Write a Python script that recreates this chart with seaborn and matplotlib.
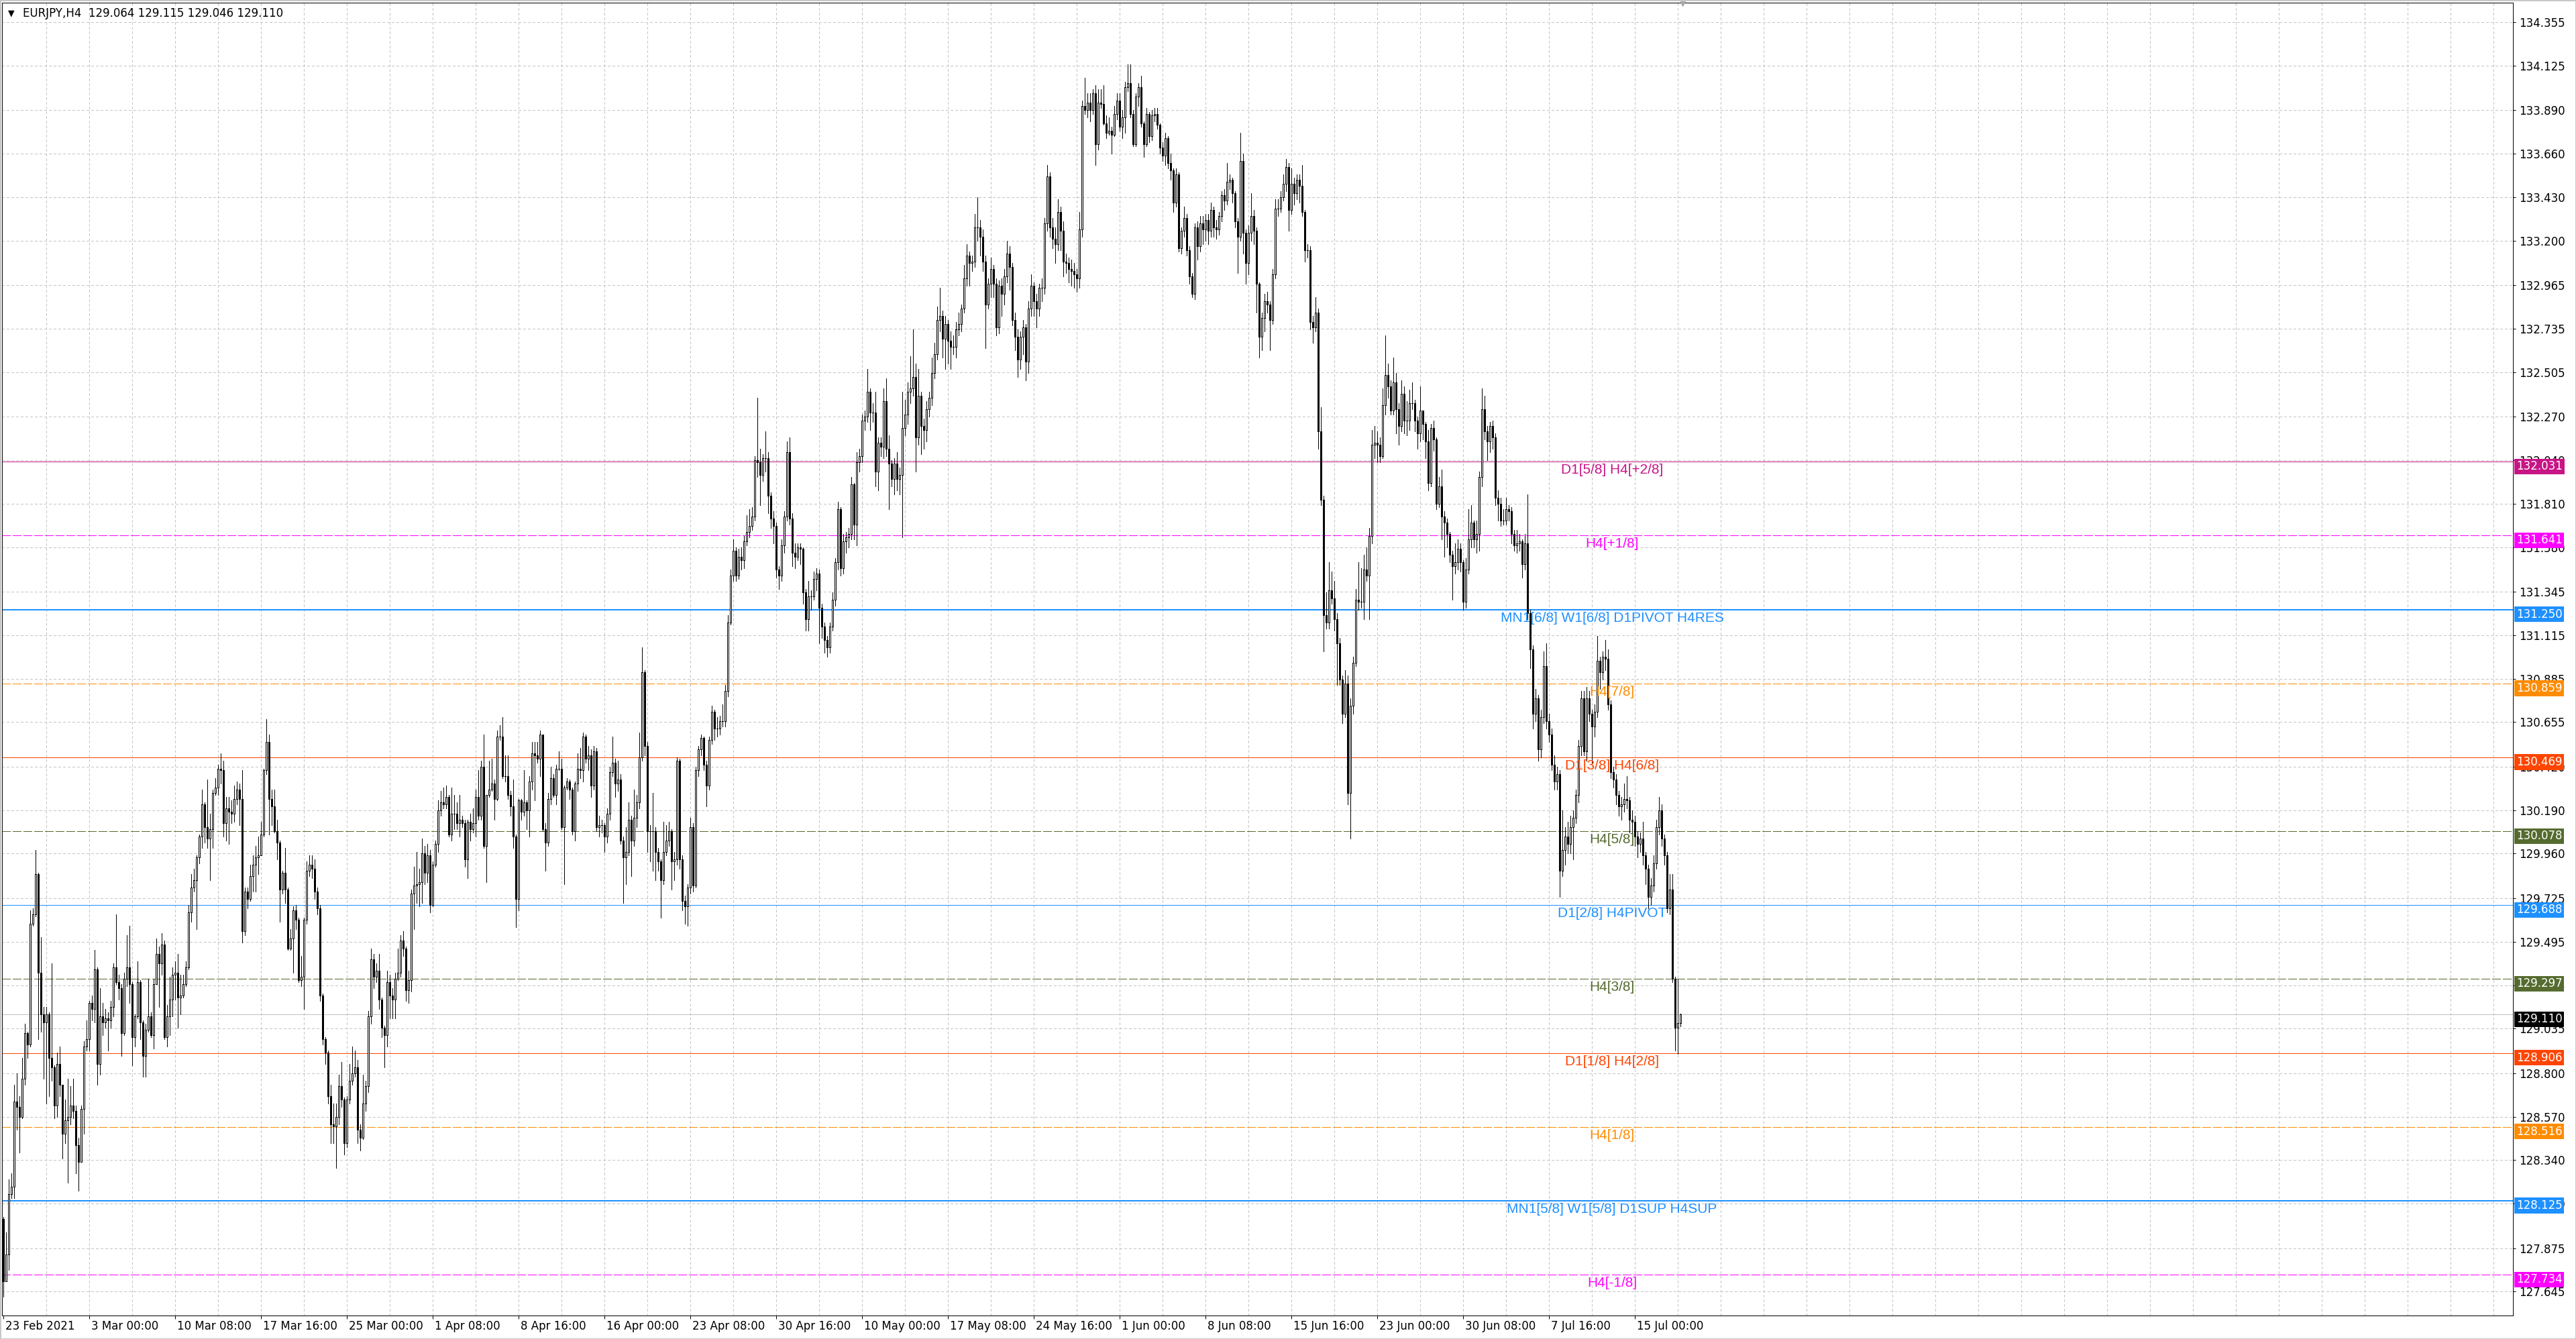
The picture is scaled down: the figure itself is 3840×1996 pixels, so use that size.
import numpy as np
import matplotlib
matplotlib.use("Agg")
import matplotlib.pyplot as plt
import matplotlib.transforms as mtransforms
from matplotlib.patches import Rectangle
import seaborn as sns

# ---- data ----
symbol = "EURJPY,H4"
last_ohlc = [129.064, 129.115, 129.046, 129.110]
first_open = 128.03

closes = [
    127.70, 127.84, 128.16, 128.20, 128.65, 128.62, 128.57, 128.77, 129.01, 128.95,
    129.59, 129.64, 129.85, 129.33, 129.11, 129.07, 129.11, 128.88, 128.83, 128.63,
    128.85, 128.74, 128.48, 128.55, 128.57, 128.63, 128.60, 128.42, 128.33, 128.61,
    128.94, 128.98, 129.17, 129.14, 129.35, 128.85, 129.10, 129.07, 129.09, 129.08,
    129.15, 129.36, 129.28, 129.25, 129.01, 129.30, 129.36, 129.27, 128.99, 129.10,
    129.28, 129.07, 128.89, 129.03, 129.10, 129.00, 129.27, 129.43, 129.38, 129.48,
    128.99, 129.10, 129.19, 129.32, 129.33, 129.20, 129.21, 129.27, 129.36, 129.65,
    129.78, 129.82, 129.94, 130.05, 130.22, 130.10, 130.04, 130.09, 130.28, 130.31,
    130.41, 130.40, 130.12, 130.20, 130.18, 130.17, 130.25, 130.30, 130.25, 129.55,
    129.76, 129.72, 129.84, 129.90, 129.94, 129.95, 130.06, 130.40, 130.55, 130.25,
    130.21, 130.08, 130.02, 129.77, 129.86, 129.77, 129.46, 129.51, 129.66, 129.61,
    129.29, 129.31, 129.61, 129.87, 129.90, 129.88, 129.76, 129.67, 129.21, 128.98,
    128.91, 128.68, 128.53, 128.52, 128.57, 128.73, 128.66, 128.43, 128.66, 128.76,
    128.80, 128.83, 128.50, 128.46, 128.64, 128.73, 129.10, 129.40, 129.31, 129.34,
    129.19, 129.04, 129.00, 129.28, 129.21, 129.19, 129.30, 129.33, 129.50, 129.46,
    129.24, 129.29, 129.75, 129.79, 129.80, 129.81, 129.96, 129.86, 129.95, 129.69,
    129.90, 130.01, 130.19, 130.23, 130.22, 130.26, 130.06, 130.17, 130.17, 130.12,
    130.14, 130.12, 129.93, 130.13, 130.09, 130.12, 130.26, 130.16, 130.42, 130.00,
    130.27, 130.30, 130.33, 130.25, 130.58, 130.58, 130.37, 130.37, 130.27, 130.21,
    130.05, 129.72, 130.24, 130.18, 130.23, 130.19, 130.34, 130.49, 130.48, 130.46,
    130.59, 130.09, 130.02, 130.25, 130.36, 130.27, 130.41, 130.41, 130.10, 130.31,
    130.34, 130.30, 130.08, 130.33, 130.41, 130.40, 130.58, 130.46, 130.48, 130.32,
    130.50, 130.10, 130.11, 130.11, 130.05, 130.17, 130.39, 130.44, 130.33, 130.35,
    130.03, 129.94, 129.97, 130.14, 130.03, 130.15, 130.23, 130.47, 130.92, 130.53,
    130.08, 130.08, 130.08, 129.97, 129.92, 129.82, 129.97, 130.03, 130.08, 129.92,
    129.93, 130.45, 129.93, 129.71, 129.68, 129.78, 130.10, 129.79, 130.40, 130.51,
    130.57, 130.43, 130.32, 130.56, 130.71, 130.62, 130.62, 130.66, 130.66, 130.82,
    131.18, 131.43, 131.56, 131.43, 131.53, 131.51, 131.61, 131.66, 131.69, 131.74,
    132.04, 132.03, 131.96, 132.05, 132.05, 131.85, 131.73, 131.69, 131.46, 131.43,
    131.59, 131.74, 132.08, 131.73, 131.55, 131.53, 131.58, 131.57, 131.34, 131.20,
    131.32, 131.32, 131.41, 131.44, 131.26, 131.16, 131.09, 131.05, 131.16, 131.30,
    131.50, 131.78, 131.47, 131.61, 131.63, 131.65, 131.91, 131.70, 132.03, 132.06,
    132.25, 132.27, 132.40, 132.29, 132.29, 131.98, 132.13, 132.11, 132.35, 132.10,
    132.02, 131.94, 132.02, 131.94, 131.96, 132.21, 132.28, 132.40, 132.42, 132.48,
    132.16, 132.38, 132.22, 132.20, 132.31, 132.37, 132.50, 132.60, 132.78, 132.80,
    132.68, 132.76, 132.67, 132.64, 132.64, 132.73, 132.76, 132.84, 133.00, 133.12,
    133.08, 133.09, 133.27, 133.27, 133.22, 133.09, 132.86, 132.97, 133.05, 132.97,
    132.74, 132.96, 132.92, 133.01, 133.13, 133.06, 132.78, 132.69, 132.57, 132.69,
    132.74, 132.56, 132.84, 132.96, 132.88, 132.84, 132.95, 132.95, 133.29, 133.54,
    133.27, 133.21, 133.18, 133.35, 133.25, 133.09, 133.08, 133.05, 133.04, 133.02,
    133.00, 133.26, 133.91, 133.89, 133.93, 133.89, 133.98, 133.71, 133.93, 133.92,
    133.82, 133.77, 133.78, 133.76, 133.87, 133.94, 133.80, 133.85, 134.01, 134.03,
    133.87, 133.71, 133.96, 134.01, 133.82, 133.71, 133.87, 133.75, 133.86, 133.87,
    133.81, 133.69, 133.65, 133.74, 133.61, 133.57, 133.40, 133.55, 133.16, 133.25,
    133.32, 133.15, 133.01, 132.92, 133.27, 133.17, 133.29, 133.26, 133.31, 133.25,
    133.36, 133.27, 133.26, 133.33, 133.44, 133.41, 133.51, 133.52, 133.45, 133.30,
    133.22, 133.62, 133.24, 133.08, 133.24, 133.33, 133.25, 132.97, 132.69, 132.79,
    132.88, 132.86, 132.78, 133.02, 133.37, 133.37, 133.43, 133.50, 133.59, 133.36,
    133.50, 133.45, 133.52, 133.49, 133.35, 133.15, 133.15, 132.77, 132.74, 132.82,
    132.19, 131.83, 131.22, 131.18, 131.35, 131.31, 131.20, 131.07, 130.88, 130.70,
    130.86, 130.28, 130.74, 130.97, 131.30, 131.29, 131.29, 131.46, 131.43, 131.64,
    132.12, 132.13, 132.12, 132.06, 132.33, 132.49, 132.43, 132.30, 132.45, 132.31,
    132.22, 132.39, 132.25, 132.25, 132.34, 132.34, 132.25, 132.18, 132.30, 132.23,
    132.14, 131.92, 132.21, 132.15, 131.81, 131.90, 131.74, 131.71, 131.65, 131.54,
    131.48, 131.50, 131.57, 131.50, 131.29, 131.46, 131.62, 131.71, 131.62, 131.65,
    131.95, 132.31, 132.19, 132.14, 132.22, 132.16, 131.84, 131.81, 131.72, 131.72,
    131.78, 131.77, 131.65, 131.59, 131.60, 131.61, 131.49, 131.60, 131.23, 131.04,
    130.70, 130.78, 130.51, 130.68, 130.95, 130.66, 130.59, 130.43, 130.34, 130.38,
    129.87, 129.98, 130.05, 130.01, 130.10, 130.15, 130.27, 130.53, 130.78, 130.50,
    130.78, 130.70, 130.63, 130.71, 130.98, 130.92, 131.00, 130.99, 130.75, 130.39,
    130.35, 130.27, 130.21, 130.22, 130.25, 130.24, 130.14, 130.13, 130.05, 130.01,
    130.04, 129.95, 129.88, 129.73, 129.79, 129.91, 130.10, 130.19, 130.04, 129.95,
    129.67, 129.77, 129.30, 129.04, 129.064, 129.110,
]

highs = [
    128.04, 127.96, 128.24, 128.27, 128.74, 128.80, 128.68, 128.88, 129.06, 129.02,
    129.66, 129.67, 129.98, 129.86, 129.52, 129.15, 129.15, 129.12, 129.38, 128.84,
    128.91, 128.94, 128.74, 128.66, 128.77, 128.73, 128.77, 128.63, 128.46, 128.63,
    128.97, 129.08, 129.18, 129.21, 129.45, 129.36, 129.25, 129.17, 129.14, 129.12,
    129.18, 129.38, 129.64, 129.32, 129.27, 129.33, 129.53, 129.58, 129.28, 129.11,
    129.39, 129.29, 129.08, 129.06, 129.30, 129.12, 129.30, 129.51, 129.47, 129.54,
    129.50, 129.16, 129.31, 129.36, 129.39, 129.43, 129.32, 129.32, 129.39, 129.69,
    129.85, 129.88, 129.95, 130.06, 130.30, 130.23, 130.35, 130.17, 130.30, 130.36,
    130.43, 130.49, 130.45, 130.26, 130.26, 130.24, 130.32, 130.34, 130.33, 130.40,
    129.78, 129.78, 129.90, 129.95, 130.00, 130.05, 130.13, 130.41, 130.67, 130.59,
    130.30, 130.30, 130.14, 130.03, 129.87, 129.99, 129.78, 129.56, 129.68, 129.69,
    129.62, 129.42, 129.62, 129.92, 129.95, 129.95, 129.93, 129.78, 129.69, 129.22,
    128.99, 128.92, 128.74, 128.64, 128.64, 128.79, 128.86, 128.67, 128.68, 128.85,
    128.94, 128.92, 128.87, 128.53, 128.79, 128.76, 129.13, 129.46, 129.43, 129.38,
    129.43, 129.20, 129.05, 129.34, 129.32, 129.25, 129.33, 129.46, 129.53, 129.55,
    129.47, 129.34, 129.77, 129.89, 129.97, 129.88, 130.04, 130.00, 130.01, 129.98,
    129.92, 130.03, 130.24, 130.29, 130.31, 130.32, 130.27, 130.31, 130.27, 130.23,
    130.27, 130.16, 130.14, 130.14, 130.17, 130.20, 130.30, 130.40, 130.45, 130.59,
    130.27, 130.45, 130.46, 130.35, 130.61, 130.64, 130.68, 130.48, 130.48, 130.29,
    130.35, 130.06, 130.25, 130.25, 130.40, 130.24, 130.37, 130.55, 130.55, 130.55,
    130.61, 130.59, 130.12, 130.28, 130.42, 130.38, 130.43, 130.50, 130.46, 130.32,
    130.36, 130.35, 130.31, 130.34, 130.49, 130.52, 130.60, 130.59, 130.53, 130.51,
    130.53, 130.52, 130.16, 130.14, 130.12, 130.20, 130.42, 130.58, 130.46, 130.45,
    130.38, 130.05, 130.10, 130.23, 130.16, 130.30, 130.27, 130.60, 131.05, 130.93,
    130.55, 130.11, 130.28, 130.10, 129.99, 129.93, 130.13, 130.11, 130.13, 130.09,
    129.97, 130.47, 130.46, 129.95, 129.74, 129.80, 130.15, 130.12, 130.42, 130.53,
    130.59, 130.58, 130.45, 130.58, 130.74, 130.72, 130.68, 130.69, 130.75, 130.85,
    131.22, 131.46, 131.62, 131.58, 131.57, 131.58, 131.64, 131.75, 131.78, 131.79,
    132.06, 132.37, 132.10, 132.07, 132.19, 132.08, 131.87, 131.77, 131.71, 131.48,
    131.62, 131.77, 132.14, 132.16, 131.76, 131.60, 131.60, 131.60, 131.58, 131.36,
    131.40, 131.35, 131.45, 131.47, 131.46, 131.28, 131.18, 131.11, 131.18, 131.34,
    131.52, 131.82, 131.79, 131.65, 131.66, 131.68, 131.95, 131.92, 132.08, 132.10,
    132.28, 132.30, 132.52, 132.42, 132.34, 132.40, 132.16, 132.16, 132.42, 132.47,
    132.17, 132.04, 132.05, 132.08, 132.00, 132.40, 132.36, 132.45, 132.59, 132.73,
    132.55, 132.52, 132.40, 132.26, 132.35, 132.40, 132.58, 132.66, 132.85, 132.95,
    132.83, 132.80, 132.78, 132.72, 132.70, 132.77, 132.82, 132.86, 133.07, 133.18,
    133.14, 133.12, 133.34, 133.43, 133.31, 133.26, 133.12, 133.00, 133.11, 133.07,
    133.00, 132.99, 133.00, 133.05, 133.20, 133.17, 133.08, 132.82, 132.73, 132.72,
    132.78, 132.76, 132.88, 133.02, 132.98, 132.92, 132.97, 133.00, 133.32, 133.60,
    133.56, 133.32, 133.27, 133.42, 133.38, 133.30, 133.13, 133.11, 133.10, 133.08,
    133.05, 133.35, 133.94, 134.06, 133.98, 133.98, 134.00, 134.02, 134.00, 134.00,
    134.02, 133.86, 133.85, 133.80, 133.91, 133.98, 133.98, 133.89, 134.04, 134.13,
    134.13, 133.89, 133.98, 134.03, 134.07, 133.83, 133.90, 133.88, 133.89, 133.90,
    133.90, 133.82, 133.72, 133.77, 133.75, 133.66, 133.58, 133.58, 133.56, 133.27,
    133.38, 133.34, 133.17, 133.03, 133.29, 133.30, 133.33, 133.33, 133.34, 133.34,
    133.40, 133.38, 133.31, 133.35, 133.46, 133.47, 133.61, 133.55, 133.53, 133.46,
    133.32, 133.77, 133.66, 133.26, 133.28, 133.45, 133.36, 133.27, 132.98, 132.82,
    132.92, 132.93, 132.88, 133.05, 133.42, 133.42, 133.46, 133.55, 133.63, 133.61,
    133.58, 133.53, 133.55, 133.55, 133.60, 133.36, 133.18, 133.17, 132.80, 132.90,
    132.84, 132.32, 131.85, 131.34, 131.50, 131.45, 131.40, 131.23, 131.10, 130.90,
    130.93, 130.90, 130.78, 131.00, 131.36, 131.50, 131.47, 131.54, 131.58, 131.68,
    132.20, 132.22, 132.19, 132.16, 132.42, 132.70, 132.55, 132.46, 132.58, 132.50,
    132.34, 132.46, 132.43, 132.35, 132.41, 132.45, 132.36, 132.27, 132.43, 132.30,
    132.24, 132.20, 132.23, 132.25, 132.16, 131.95, 131.99, 131.77, 131.73, 131.66,
    131.56, 131.60, 131.62, 131.60, 131.51, 131.52, 131.78, 131.80, 131.72, 131.72,
    131.98, 132.42, 132.38, 132.22, 132.24, 132.25, 132.18, 131.88, 131.84, 131.78,
    131.84, 131.80, 131.79, 131.67, 131.67, 131.65, 131.62, 131.65, 131.86, 131.25,
    131.06, 130.83, 130.80, 130.72, 131.03, 131.07, 130.70, 130.62, 130.48, 130.42,
    130.40, 130.19, 130.10, 130.13, 130.16, 130.19, 130.30, 130.56, 130.82, 130.82,
    130.84, 130.82, 130.72, 130.75, 131.11, 131.00, 131.03, 131.09, 131.04, 130.77,
    130.42, 130.38, 130.29, 130.26, 130.33, 130.37, 130.26, 130.19, 130.16, 130.08,
    130.07, 130.13, 129.97, 129.90, 129.83, 129.95, 130.14, 130.26, 130.22, 130.06,
    129.97, 129.85, 129.85, 129.31, 129.30, 129.115,
]

lows = [
    127.62, 127.70, 127.76, 128.14, 128.14, 128.50, 128.38, 128.56, 128.74, 128.88,
    128.94, 129.58, 129.63, 128.98, 129.02, 128.77, 128.64, 128.68, 128.76, 128.56,
    128.57, 128.68, 128.35, 128.43, 128.22, 128.53, 128.56, 128.27, 128.18, 128.33,
    128.48, 128.92, 128.92, 129.08, 129.07, 128.74, 128.79, 129.00, 129.04, 128.92,
    129.04, 129.10, 129.27, 129.19, 128.89, 129.00, 129.26, 129.17, 128.84, 128.94,
    129.09, 128.98, 128.78, 128.78, 129.02, 128.99, 128.93, 129.27, 129.15, 129.32,
    128.98, 128.94, 129.00, 129.10, 129.19, 129.04, 129.11, 129.20, 129.26, 129.35,
    129.60, 129.76, 129.56, 129.91, 129.99, 130.02, 129.99, 129.82, 129.99, 130.27,
    130.27, 130.33, 130.05, 130.03, 130.01, 130.12, 130.13, 130.22, 130.11, 129.49,
    129.53, 129.67, 129.71, 129.76, 129.76, 129.85, 129.95, 130.05, 130.38, 130.06,
    130.11, 130.07, 129.93, 129.60, 129.75, 129.70, 129.45, 129.45, 129.33, 129.56,
    129.28, 129.26, 129.14, 129.59, 129.84, 129.83, 129.72, 129.64, 129.18, 128.95,
    128.85, 128.64, 128.43, 128.43, 128.30, 128.53, 128.62, 128.37, 128.41, 128.64,
    128.74, 128.78, 128.43, 128.39, 128.45, 128.60, 128.70, 129.06, 129.25, 129.28,
    129.14, 128.99, 128.83, 128.94, 129.09, 129.09, 129.09, 129.29, 129.31, 129.42,
    129.18, 129.17, 129.23, 129.56, 129.70, 129.68, 129.70, 129.80, 129.81, 129.65,
    129.68, 129.89, 129.97, 130.16, 130.20, 130.20, 130.05, 130.03, 130.09, 130.09,
    130.05, 130.10, 129.89, 129.83, 130.03, 130.07, 130.05, 130.14, 130.14, 129.99,
    129.81, 130.26, 130.29, 130.14, 130.24, 130.56, 130.36, 130.34, 130.25, 130.16,
    129.99, 129.57, 129.66, 130.14, 130.16, 130.09, 130.05, 130.30, 130.24, 130.44,
    130.37, 130.08, 129.87, 130.00, 130.22, 130.26, 130.22, 130.40, 130.09, 129.80,
    130.30, 130.25, 130.06, 130.03, 130.29, 130.36, 130.34, 130.44, 130.40, 130.26,
    130.30, 130.08, 130.05, 130.07, 129.97, 130.02, 130.14, 130.37, 130.26, 130.29,
    130.01, 129.70, 129.80, 129.95, 129.84, 130.00, 130.10, 130.20, 130.45, 130.48,
    129.97, 129.92, 129.87, 129.82, 129.87, 129.62, 129.80, 129.95, 130.00, 129.77,
    129.82, 129.90, 129.88, 129.66, 129.59, 129.58, 129.75, 129.76, 129.78, 130.37,
    130.48, 130.40, 130.21, 130.30, 130.54, 130.56, 130.58, 130.59, 130.63, 130.63,
    130.79, 131.17, 131.40, 131.40, 131.41, 131.46, 131.47, 131.59, 131.63, 131.67,
    131.72, 131.95, 131.80, 131.93, 131.98, 131.76, 131.68, 131.60, 131.42, 131.36,
    131.40, 131.55, 131.72, 131.70, 131.48, 131.47, 131.51, 131.49, 131.28, 131.14,
    131.14, 131.25, 131.30, 131.35, 131.07, 131.10, 131.02, 131.00, 131.02, 131.14,
    131.27, 131.46, 131.43, 131.44, 131.55, 131.58, 131.62, 131.62, 131.59, 131.98,
    132.03, 132.20, 132.24, 132.20, 132.24, 131.90, 131.88, 132.06, 132.05, 132.06,
    131.78, 131.90, 131.86, 131.88, 131.86, 131.63, 132.17, 132.23, 132.34, 132.38,
    131.98, 132.12, 132.07, 132.10, 132.14, 132.27, 132.33, 132.47, 132.57, 132.72,
    132.58, 132.52, 132.55, 132.52, 132.60, 132.58, 132.70, 132.72, 132.82, 132.96,
    132.96, 133.04, 133.06, 133.20, 133.12, 133.04, 132.63, 132.84, 132.90, 132.90,
    132.70, 132.71, 132.80, 132.86, 132.98, 132.94, 132.75, 132.62, 132.48, 132.52,
    132.60, 132.46, 132.50, 132.80, 132.80, 132.74, 132.80, 132.88, 132.92, 133.25,
    133.22, 133.16, 133.08, 133.15, 133.15, 133.01, 133.03, 132.98, 132.96, 132.95,
    132.93, 132.95, 133.22, 133.87, 133.85, 133.83, 133.87, 133.60, 133.68, 133.90,
    133.81, 133.74, 133.76, 133.66, 133.75, 133.84, 133.78, 133.74, 133.77, 133.99,
    133.85, 133.70, 133.70, 133.91, 133.80, 133.64, 133.70, 133.72, 133.73, 133.83,
    133.79, 133.66, 133.62, 133.60, 133.58, 133.52, 133.35, 133.38, 133.14, 133.13,
    133.22, 133.12, 132.97, 132.90, 132.89, 133.10, 133.14, 133.18, 133.20, 133.18,
    133.22, 133.22, 133.21, 133.23, 133.30, 133.36, 133.39, 133.47, 133.40, 133.27,
    133.03, 133.20, 133.13, 132.97, 133.02, 133.20, 133.18, 132.82, 132.58, 132.62,
    132.72, 132.82, 132.62, 132.76, 133.00, 133.33, 133.35, 133.41, 133.46, 133.25,
    133.34, 133.39, 133.42, 133.40, 133.33, 133.09, 133.11, 132.73, 132.66, 132.72,
    132.10, 131.80, 131.03, 131.15, 131.15, 131.28, 131.14, 130.85, 130.85, 130.65,
    130.68, 130.22, 130.04, 130.70, 130.95, 131.25, 131.26, 131.20, 131.40, 131.20,
    131.60, 132.05, 132.03, 132.03, 132.05, 132.28, 132.37, 132.28, 132.28, 132.18,
    132.12, 132.19, 132.18, 132.17, 132.20, 132.31, 132.19, 132.10, 132.14, 132.15,
    132.05, 131.88, 131.90, 132.09, 131.78, 131.79, 131.62, 131.53, 131.58, 131.50,
    131.30, 131.44, 131.46, 131.45, 131.25, 131.26, 131.44, 131.58, 131.58, 131.55,
    131.56, 131.90, 132.15, 132.04, 132.08, 132.10, 131.80, 131.72, 131.69, 131.70,
    131.70, 131.72, 131.60, 131.56, 131.55, 131.56, 131.42, 131.46, 131.20, 130.94,
    130.62, 130.66, 130.45, 130.47, 130.65, 130.62, 130.55, 130.40, 130.30, 130.30,
    129.73, 129.84, 129.90, 129.96, 129.96, 129.93, 130.12, 130.23, 130.48, 130.48,
    130.45, 130.66, 130.44, 130.58, 130.68, 130.83, 130.88, 130.93, 130.72, 130.36,
    130.31, 130.22, 130.16, 130.14, 130.18, 130.20, 130.07, 130.05, 130.00, 129.94,
    129.97, 129.90, 129.80, 129.67, 129.69, 129.76, 129.88, 130.06, 130.00, 129.90,
    129.65, 129.64, 129.28, 128.92, 128.90, 129.046,
]

date_labels = [
    "23 Feb 2021", "3 Mar 00:00", "10 Mar 08:00", "17 Mar 16:00", "25 Mar 00:00",
    "1 Apr 08:00", "8 Apr 16:00", "16 Apr 00:00", "23 Apr 08:00", "30 Apr 16:00",
    "10 May 00:00", "17 May 08:00", "24 May 16:00", "1 Jun 00:00", "8 Jun 08:00",
    "15 Jun 16:00", "23 Jun 00:00", "30 Jun 08:00", "7 Jul 16:00", "15 Jul 00:00",
]
bars_per_label = 32
bars_per_grid = 16

price_ticks = [
    134.355, 134.125, 133.890, 133.660, 133.430, 133.200, 132.965, 132.735,
    132.505, 132.270, 132.040, 131.810, 131.580, 131.345, 131.115, 130.885,
    130.655, 130.420, 130.190, 129.960, 129.725, 129.495, 129.265, 129.035,
    128.800, 128.570, 128.340, 128.110, 127.875, 127.645,
]

levels = [132.031, 131.641, 131.250, 130.859, 130.469, 130.078,
          129.688, 129.297, 128.906, 128.516, 128.125, 127.734]
level_names = ["D1[5/8] H4[+2/8]", "H4[+1/8]", "MN1[6/8] W1[6/8] D1PIVOT H4RES",
               "H4[7/8]", "D1[3/8] H4[6/8]", "H4[5/8]", "D1[2/8] H4PIVOT",
               "H4[3/8]", "D1[1/8] H4[2/8]", "H4[1/8]",
               "MN1[5/8] W1[5/8] D1SUP H4SUP", "H4[-1/8]"]
level_colors = ["#C71585", "#FF00FF", "#1E90FF", "#FF8C00", "#FF4500", "#556B2F",
                "#1E90FF", "#556B2F", "#FF4500", "#FF8C00", "#1E90FF", "#FF00FF"]
level_dashed = [False, True, False, True, False, True,
                False, True, False, True, False, True]
level_width = [1, 1, 2, 1, 1, 1, 1, 1, 1, 1, 2, 1]

# ---- figure geometry (pixels of the 3840x1996 screenshot) ----
W, H, DPI = 3840, 1996, 100
PX = 72.0 / DPI
AX_L, AX_R, AX_T, AX_B = 3, 3746, 4, 1961
PX_PER_BAR = 4.0
Y_LO, Y_HI = 127.519, 134.457

sns.set_theme(style="white", rc={"axes.axisbelow": True})
plt.rcParams["font.family"] = ["DejaVu Sans"]

fig = plt.figure(figsize=(W / DPI, H / DPI), dpi=DPI)
fig.patch.set_facecolor("white")
ax = fig.add_axes([AX_L / W, (H - AX_B) / H, (AX_R - AX_L) / W, (AX_B - AX_T) / H])
ax.set_facecolor("white")
xmax = -0.5 + (AX_R - AX_L) / PX_PER_BAR
ax.set_xlim(-0.5, xmax)
ax.set_ylim(Y_LO, Y_HI)

for sp in ax.spines.values():
    sp.set_color("black")
    sp.set_linewidth(PX)

grid_kw = dict(color="#C4C4C4", lw=PX, ls=(0, (3, 3)), antialiased=False)
for gx in range(bars_per_grid, int(xmax) + 1, bars_per_grid):
    ax.axvline(gx, zorder=0.6, **grid_kw)
for gy in price_ticks:
    ax.axhline(gy, zorder=0.6, **grid_kw)

# ---- candles ----
n = len(closes)
xs = np.arange(n)
cl = np.array(closes)
op = np.array([first_open] + closes[:-1])
hi = np.maximum(np.array(highs), np.maximum(op, cl))
lo = np.minimum(np.array(lows), np.minimum(op, cl))

ax.vlines(xs, lo, hi, colors="black", linewidth=PX, zorder=3, antialiased=False)
bull = cl >= op
ax.bar(xs, cl - op, bottom=op, width=0.5, color=np.where(bull, "white", "black"),
       edgecolor="black", linewidth=PX, zorder=4, antialiased=False)
flat = np.abs(cl - op) < 0.006
ax.hlines(op[flat], xs[flat] - 0.3, xs[flat] + 0.3, colors="black",
          linewidth=PX, zorder=4, antialiased=False)

# ---- Murrey levels ----
label_x = n - 26.5


def price_tag(value, color):
    # MT4 draws the price box mostly below its line
    ax.annotate(f"{value:.3f}", xy=(1, value), xycoords=("axes fraction", "data"),
                xytext=(5 * PX, -7 * PX), textcoords="offset points", ha="left",
                va="center", color="white", fontsize=12, annotation_clip=False,
                zorder=10, bbox=dict(boxstyle="square,pad=0.16", fc=color, ec="none"))


for lv, name, col, dashed, lw in zip(levels, level_names, level_colors,
                                     level_dashed, level_width):
    ls = (0, (13, 4)) if dashed else "-"
    ax.axhline(lv, color=col, lw=lw * PX, ls=ls, zorder=2, antialiased=False)
    ax.annotate(name, xy=(label_x, lv), xytext=(0, -3 * PX), textcoords="offset points",
                ha="center", va="top", color=col, fontsize=15,
                family=["Liberation Sans", "DejaVu Sans"], zorder=5)
    price_tag(lv, col)

ax.axhline(last_ohlc[3], color="#C0C0C0", lw=PX, zorder=2, antialiased=False)
price_tag(last_ohlc[3], "black")

# ---- axes ticks ----
ax.yaxis.tick_right()
ax.set_yticks(price_ticks)
ax.set_yticklabels([f"{v:.3f}" for v in price_ticks])
ax.tick_params(axis="y", which="both", right=True, left=False, direction="out",
               length=4 * PX, width=PX, pad=5 * PX, labelsize=12, colors="black")

ax.set_xticks(np.arange(len(date_labels)) * bars_per_label)
ax.set_xticklabels(date_labels, ha="left")
ax.tick_params(axis="x", bottom=True, direction="out", length=5 * PX, width=PX,
               pad=1.5 * PX, labelsize=12, colors="black")
shift = mtransforms.ScaledTranslation(3 / DPI, 0, fig.dpi_scale_trans)
for t in ax.get_xticklabels():
    t.set_transform(t.get_transform() + shift)

# ---- header text and chart-shift marker ----
ax.annotate("\u25BC", xy=(0, 1), xycoords="axes fraction", xytext=(9 * PX, -16 * PX),
            textcoords="offset points", ha="left", va="center", fontsize=9, color="black")
ax.annotate(f"{symbol}  " + " ".join(f"{v:.3f}" for v in last_ohlc),
            xy=(0, 1), xycoords="axes fraction", xytext=(31 * PX, -16 * PX),
            textcoords="offset points", ha="left", va="center", fontsize=12, color="black")
ax.plot([n - 0.25], [Y_HI], marker="v", ms=9 * PX, color="#A8A8A8", clip_on=False,
        zorder=6, ls="none")

fig.patches.append(Rectangle((0, 0), 1, 1, transform=fig.transFigure, fill=False,
                             edgecolor="#C8C8C8", lw=3 * PX))

fig.savefig("out.png", dpi=DPI, facecolor="white")
